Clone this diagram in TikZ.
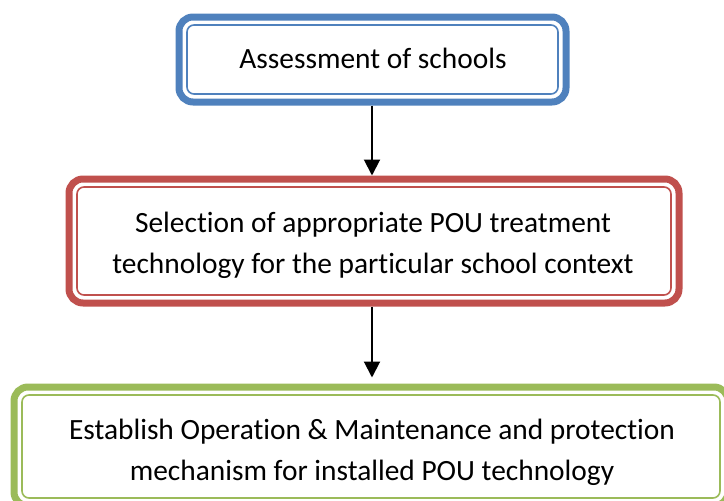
\documentclass[tikz,border=0pt]{standalone}
\usepackage{fontspec}
\setmainfont{Carlito}[Ligatures = NoCommon]
\usetikzlibrary{arrows.meta}
\definecolor{blueline}{HTML}{4F81BD}
\definecolor{redline}{HTML}{C0504D}
\definecolor{greenline}{HTML}{9BBB59}
\tikzset{
  flowbox/.style = {draw = #1, line width = 7pt, rounded corners = 14pt, fill = white},
  innerline/.style = {draw = #1, line width = 1.6pt, rounded corners = 7pt},
  boxtext/.style = {align = center, inner sep = 0pt, font = \fontsize{29.4}{41}\selectfont},
  flowarrow/.style = {-{Triangle[length = 16pt, width = 16pt]}, line width = 2pt}
}
\begin{document}
\begin{tikzpicture}[x = 1pt, y = -1pt]
      \clip (0, 0) rectangle (724, 501);
      \useasboundingbox (0, 0) rectangle (724, 501);
      \node [flowbox = blueline, minimum width = 387pt, minimum height = 85pt] (assess) at (372.5, 59.5) {};
      \node [flowbox = redline, minimum width = 610pt, minimum height = 124pt] (select) at (374, 241) {};
      \node [flowbox = greenline, minimum width = 714pt, minimum height = 119pt] (estab) at (371, 446.5) {};
      \foreach \n/\c in {assess/blueline, select/redline, estab/greenline}
        \draw [innerline = \c] ([shift = {(11.5, 11.5)}] \n.north west) rectangle ([shift = {(-11.5, -11.5)}] \n.south east);
      \node [boxtext] (assesstext) at (373, 58.5) {Assessment of schools};
      \node [boxtext] (selecttext) at (373, 245) {Selection of appropriate POU treatment\\technology for the particular school context};
      \node [boxtext] (estabtext) at (372, 452) {Establish Operation \& Maintenance and protection\\mechanism for installed POU technology};
      \draw [flowarrow] ([xshift = -0.5pt] assess.south) -- ([xshift = -0.5pt] assess.south |- select.north);
      \draw [flowarrow, shorten > = 6pt] ([xshift = -2pt] select.south) -- ([xshift = -2pt] select.south |- estab.north);
    \end{tikzpicture}
\end{document}
